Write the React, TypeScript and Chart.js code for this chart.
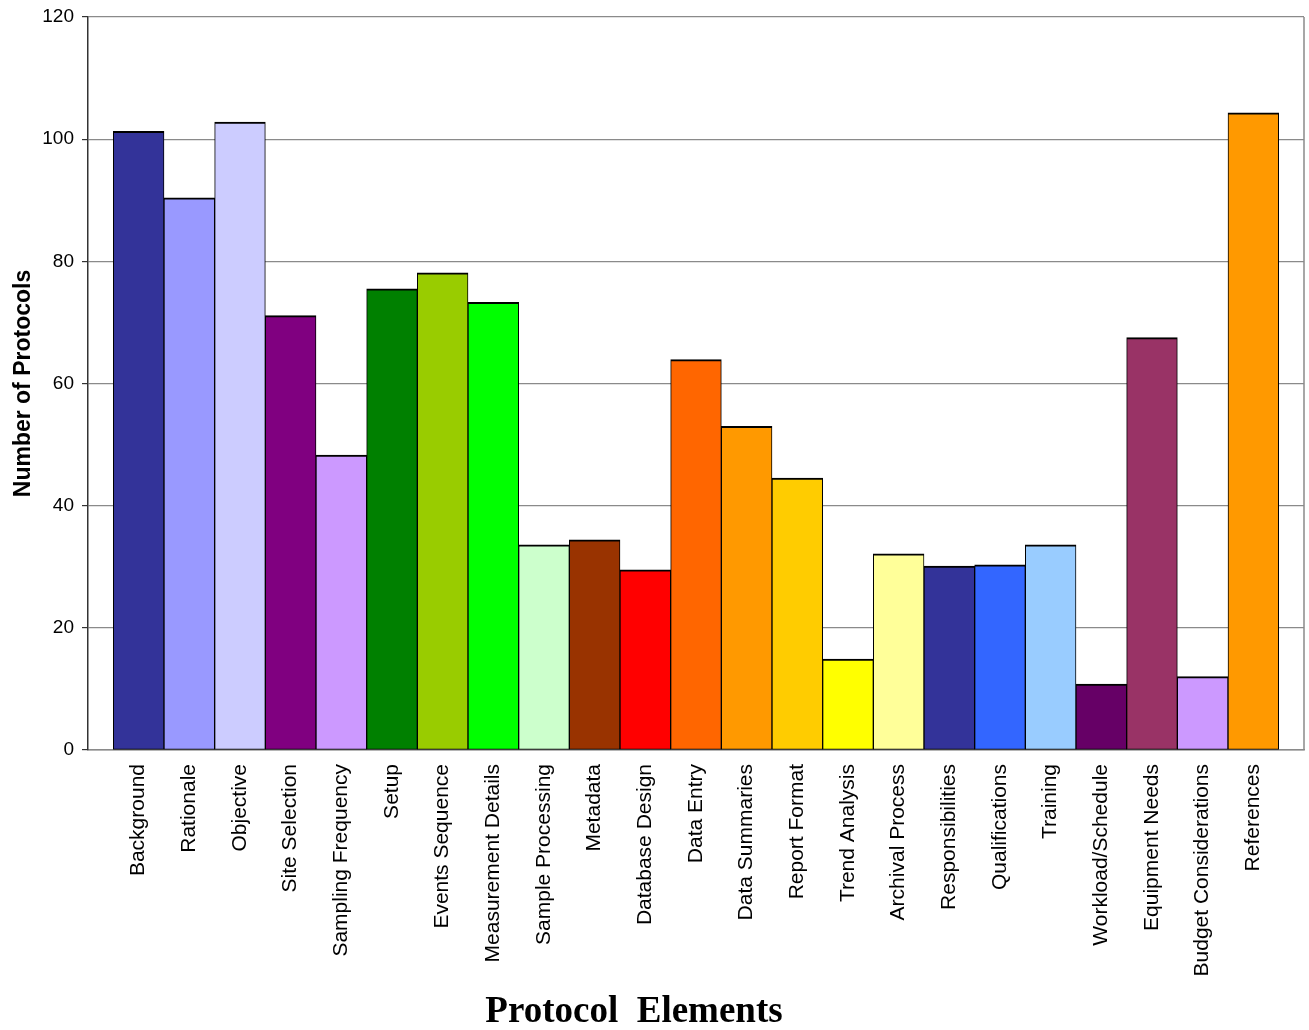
import React, { useEffect, useRef } from "react";
import { Chart, registerables } from "chart.js";

Chart.register(...registerables);

const categories: string[] = [
  "Background",
  "Rationale",
  "Objective",
  "Site Selection",
  "Sampling Frequency",
  "Setup",
  "Events Sequence",
  "Measurement Details",
  "Sample Processing",
  "Metadata",
  "Database Design",
  "Data Entry",
  "Data Summaries",
  "Report Format",
  "Trend Analysis",
  "Archival Process",
  "Responsibilities",
  "Qualifications",
  "Training",
  "Workload/Schedule",
  "Equipment Needs",
  "Budget Considerations",
  "References",
];

const protocolCounts: number[] = [
  101.3, 90.4, 102.8, 71.1, 48.3, 75.5, 78.1, 73.3, 33.6, 34.4, 29.5, 63.9, 53.0,
  44.5, 14.9, 32.1, 30.1, 30.3, 33.6, 10.8, 67.5, 12.0, 104.3,
];

const barColors: string[] = [
  "#333399",
  "#9999FF",
  "#CCCCFF",
  "#800080",
  "#CC99FF",
  "#008000",
  "#99CC00",
  "#00FF00",
  "#CCFFCC",
  "#993300",
  "#FF0000",
  "#FF6600",
  "#FF9900",
  "#FFCC00",
  "#FFFF00",
  "#FFFF99",
  "#333399",
  "#3366FF",
  "#99CCFF",
  "#660066",
  "#993366",
  "#CC99FF",
  "#FF9900",
];

const yTicks: number[] = [0, 20, 40, 60, 80, 100, 120];
const yTitle = "Number of Protocols";
const xTitle = "Protocol  Elements";

export default function App() {
  const canvasRef = useRef<HTMLCanvasElement | null>(null);

  useEffect(() => {
    if (!canvasRef.current) return;
    // pad with empty slots so bars sit half a bar away from the frame
    const labels = ["", ...categories, ""];
    const data = [null, ...protocolCounts, null];
    const colors = ["#fff", ...barColors, "#fff"];

    const framePlugin = {
      id: "frame",
      afterDraw(chart: any) {
        const { ctx, chartArea } = chart;
        ctx.save();
        ctx.strokeStyle = "#8a8a8a";
        ctx.lineWidth = 1.5;
        ctx.beginPath();
        ctx.moveTo(chartArea.right, chartArea.top);
        ctx.lineTo(chartArea.right, chartArea.bottom);
        ctx.stroke();
        ctx.fillStyle = "#000";
        ctx.font = 'bold 37px "Liberation Serif", "Times New Roman", serif';
        ctx.textAlign = "center";
        ctx.textBaseline = "alphabetic";
        ctx.fillText(xTitle, 634, 1022);
        ctx.restore();
      },
    };

    const chart = new Chart(canvasRef.current, {
      type: "bar",
      data: {
        labels,
        datasets: [
          {
            data: data as any,
            backgroundColor: colors,
            borderColor: "#000",
            borderWidth: { top: 2, left: 1, right: 1, bottom: 1 } as any,
            borderSkipped: false,
            barPercentage: 1,
            categoryPercentage: 1,
          },
        ],
      },
      options: {
        animation: false,
        responsive: true,
        maintainAspectRatio: false,
        layout: { padding: { top: 17, right: 5, bottom: 0, left: 0 } },
        plugins: {
          legend: { display: false },
          tooltip: { enabled: false },
        },
        scales: {
          x: {
            type: "category",
            offset: false,
            grid: { display: false, drawTicks: false },
            border: { display: true, color: "#8a8a8a", width: 1.5 },
            ticks: {
              autoSkip: false,
              maxRotation: 90,
              minRotation: 90,
              padding: 14,
              color: "#000",
              font: { family: '"Liberation Sans", Arial, sans-serif', size: 21 },
            },
            afterFit(scale: any) {
              scale.height = 280;
              scale.paddingLeft = 0;
              scale.paddingRight = 0;
            },
          },
          y: {
            min: 0,
            max: 120,
            afterBuildTicks(scale: any) {
              scale.ticks = yTicks.map((v) => ({ value: v }));
            },
            grid: {
              color: "#8a8a8a",
              lineWidth: 1.2,
              drawTicks: true,
              tickLength: 6,
              tickColor: "#333",
            },
            border: { display: true, color: "#333", width: 1.5 },
            ticks: {
              padding: 8,
              color: "#000",
              font: { family: '"Liberation Sans", Arial, sans-serif', size: 19 },
            },
            title: {
              display: true,
              text: yTitle,
              color: "#000",
              padding: { top: 10, bottom: 0 },
              font: { family: '"Liberation Sans", Arial, sans-serif', size: 23, weight: "bold" },
            },
            afterFit(scale: any) {
              scale.width = 88;
              scale.paddingTop = 0;
              scale.paddingBottom = 0;
            },
          },
        },
      },
      plugins: [framePlugin],
    });
    return () => chart.destroy();
  }, []);

  return (
    <div style={{ position: "absolute", left: 0, top: 0, width: 1309, height: 1030, background: "#fff" }}>
      <canvas ref={canvasRef} />
    </div>
  );
}
